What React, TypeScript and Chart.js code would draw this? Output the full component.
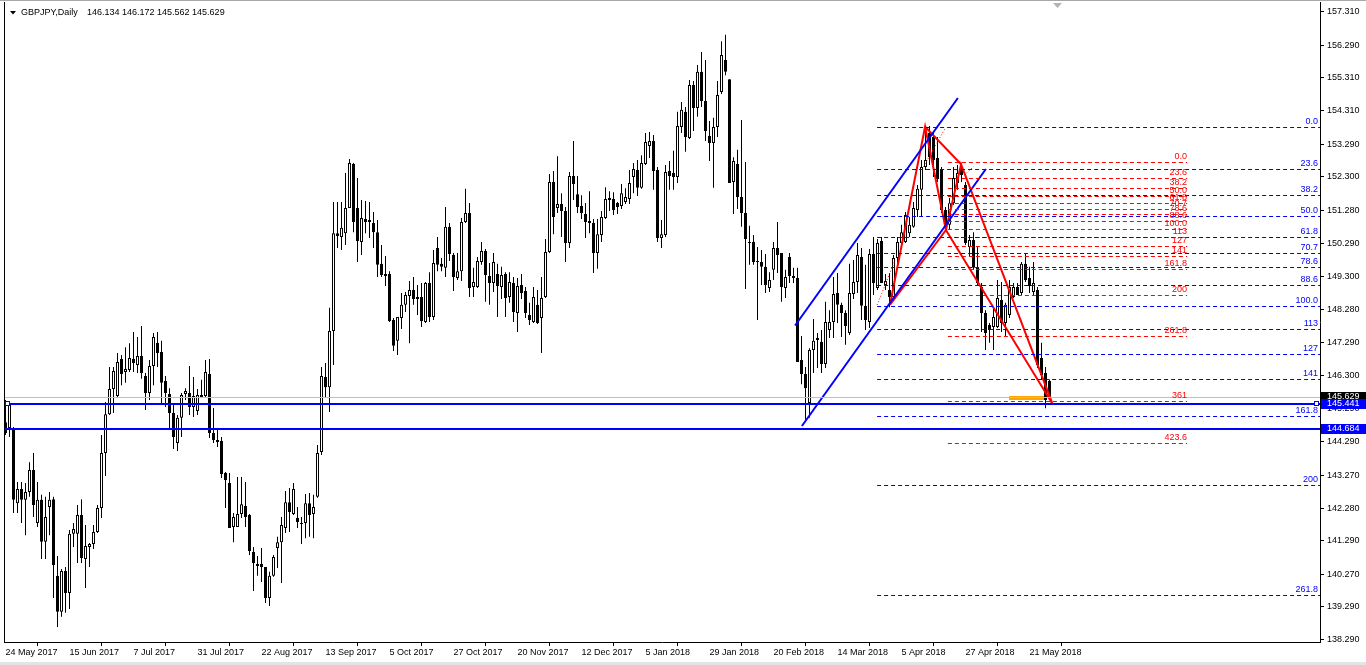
import React, { useEffect, useRef } from 'react';
import { Chart, registerables } from 'chart.js';

Chart.register(...registerables);

// ---- header ----
const symbolTitle = 'GBPJPY,Daily';
const ohlcText = '146.134 146.172 145.562 145.629';

// ---- daily candles (index 0 = 24 May 2017) ----
const opens = [
  144.88, 144.70, 144.70, 142.43, 142.86, 142.53, 142.77, 143.43, 141.83, 142.53,
  141.26, 142.31, 142.55, 140.23, 139.14, 140.38, 139.71, 141.50, 141.50, 142.07,
  140.74, 141.10, 141.19, 141.56, 142.28, 143.95, 145.12, 145.88, 145.67, 146.79,
  146.40, 146.46, 146.79, 146.61, 146.88, 146.28, 145.76, 146.58, 147.28, 147.00,
  146.13, 145.73, 145.16, 144.25, 145.01, 145.73, 145.76, 145.34, 145.22, 145.64,
  145.67, 146.34, 144.55, 144.34, 144.31, 143.34, 143.04, 141.71, 141.71, 142.10,
  142.34, 142.07, 140.95, 140.59, 140.59, 140.50, 139.56, 140.23, 141.07, 141.25,
  141.68, 142.46, 142.10, 141.98, 141.83, 141.83, 142.43, 142.10, 142.62, 143.98,
  146.25, 145.94, 147.64, 150.60, 150.48, 150.60, 151.36, 152.69, 151.36, 150.33,
  151.03, 151.00, 150.91, 150.63, 149.67, 149.36, 149.36, 147.97, 147.34, 148.03,
  148.43, 148.70, 148.88, 148.61, 148.67, 147.91, 149.09, 148.06, 150.15, 149.67,
  149.55, 150.79, 149.94, 149.24, 149.45, 150.94, 151.21, 148.97, 148.97, 149.73,
  150.06, 149.30, 149.09, 149.36, 148.97, 149.36, 148.67, 149.09, 148.18, 149.03,
  148.85, 148.12, 147.91, 148.43, 148.03, 148.67, 150.03, 152.15, 151.36, 151.48,
  151.27, 150.30, 152.33, 151.78, 151.42, 151.18, 150.97, 150.91, 150.00, 150.54,
  151.06, 151.60, 151.63, 151.51, 151.42, 151.54, 151.63, 152.30, 152.51, 151.97,
  152.69, 153.24, 153.39, 152.51, 150.45, 150.54, 152.48, 152.42, 152.30, 153.81,
  154.27, 153.48, 155.08, 154.39, 155.48, 154.60, 153.54, 153.33, 153.81, 154.87,
  155.84, 155.26, 152.15, 152.69, 151.69, 151.21, 150.33, 150.33, 149.76, 149.73,
  149.58, 148.94, 149.49, 150.15, 150.00, 148.94, 149.88, 149.30, 149.24, 146.76,
  146.34, 145.46, 147.06, 147.37, 147.31, 146.64, 147.67, 147.91, 148.79, 148.43,
  148.18, 147.58, 148.76, 149.12, 149.88, 148.40, 147.91, 149.97, 148.94, 150.36,
  149.03, 148.88, 148.67, 149.85, 150.30, 150.33, 150.60, 150.79, 151.30, 151.91,
  152.60, 153.63, 153.51, 152.87, 152.54, 151.30, 150.85, 151.51, 152.12, 152.60,
  152.06, 150.18, 150.39, 149.55, 148.97, 148.18, 147.82, 147.76, 147.76, 148.58,
  147.88, 148.12, 148.67, 148.97, 148.79, 149.67, 149.24, 148.82, 148.88, 146.82,
  146.37, 146.134,
];
const highs = [
  145.55, 145.49, 144.73, 143.07, 143.07, 143.04, 143.67, 143.95, 143.07, 142.68,
  142.62, 142.77, 142.62, 140.83, 140.44, 140.50, 141.62, 141.83, 142.37, 142.55,
  141.77, 141.22, 141.77, 142.37, 144.49, 145.49, 146.55, 146.55, 146.97, 146.91,
  147.15, 147.27, 147.61, 147.46, 147.79, 146.37, 146.76, 147.58, 147.61, 147.34,
  146.28, 145.91, 145.46, 145.10, 145.76, 145.91, 146.58, 146.25, 145.88, 146.16,
  146.76, 146.79, 145.31, 144.70, 144.43, 143.37, 143.34, 142.13, 143.22, 143.22,
  143.07, 142.10, 141.10, 140.83, 141.07, 140.50, 140.35, 140.86, 141.41, 142.01,
  142.80, 142.89, 143.04, 142.31, 142.01, 142.71, 142.74, 142.68, 144.19, 146.55,
  146.67, 148.34, 151.54, 151.54, 151.54, 152.42, 152.84, 152.72, 152.27, 151.60,
  151.57, 151.54, 151.24, 151.00, 150.24, 149.91, 149.45, 148.03, 148.06, 148.79,
  148.82, 149.15, 149.27, 149.03, 149.09, 149.12, 149.42, 150.09, 150.48, 149.85,
  151.39, 150.91, 150.00, 150.00, 151.06, 151.94, 151.51, 149.55, 149.88, 150.33,
  150.12, 149.70, 150.00, 149.67, 149.58, 149.42, 149.42, 149.27, 149.24, 149.36,
  148.97, 148.49, 148.97, 148.88, 149.27, 150.42, 152.39, 152.48, 152.93, 151.81,
  151.39, 152.45, 153.39, 152.33, 151.75, 151.51, 151.87, 151.03, 151.03, 151.27,
  151.99, 151.87, 151.84, 151.54, 152.09, 151.96, 152.51, 152.72, 152.81, 152.96,
  153.63, 153.66, 153.57, 152.60, 151.00, 152.66, 152.78, 153.09, 154.27, 154.57,
  154.42, 155.23, 155.20, 155.69, 156.08, 155.84, 153.99, 154.09, 155.20, 156.41,
  156.60, 155.26, 152.90, 153.12, 154.02, 152.75, 150.82, 150.54, 150.18, 150.09,
  149.97, 149.42, 150.33, 150.94, 150.00, 149.49, 150.00, 149.55, 149.55, 147.49,
  146.55, 147.12, 148.00, 147.58, 147.67, 148.52, 148.27, 149.27, 149.39, 148.49,
  148.27, 149.67, 149.79, 150.30, 150.15, 149.64, 150.12, 150.48, 150.42, 150.48,
  149.36, 149.39, 149.94, 150.48, 150.85, 151.24, 151.09, 151.54, 152.06, 152.81,
  153.78, 153.84, 153.66, 153.51, 152.60, 151.39, 151.66, 152.60, 152.66, 152.72,
  152.15, 150.54, 150.63, 150.18, 149.09, 148.27, 147.88, 148.34, 149.18, 149.12,
  148.49, 149.18, 149.09, 149.09, 149.73, 150.00, 149.58, 149.73, 148.97, 147.28,
  146.55, 146.172,
];
const lows = [
  144.49, 144.43, 142.13, 142.13, 141.83, 141.46, 142.62, 142.01, 141.71, 140.74,
  140.74, 141.46, 139.56, 138.68, 138.99, 139.11, 139.23, 141.10, 140.62, 140.62,
  139.86, 140.50, 141.04, 141.53, 141.98, 143.25, 145.10, 145.16, 145.64, 146.00,
  146.07, 146.40, 146.40, 146.37, 146.19, 145.25, 145.55, 146.00, 146.55, 145.40,
  145.34, 144.70, 144.07, 144.01, 144.43, 145.55, 145.10, 145.04, 145.10, 145.61,
  145.64, 144.40, 144.25, 144.13, 143.19, 142.28, 141.68, 141.25, 141.71, 141.98,
  141.71, 140.86, 139.77, 140.23, 140.04, 139.41, 139.32, 140.20, 140.47, 140.01,
  141.53, 141.56, 142.07, 141.68, 141.19, 141.37, 141.41, 141.37, 142.59, 143.89,
  145.64, 145.19, 146.61, 150.15, 150.09, 150.24, 151.36, 150.63, 149.73, 149.94,
  150.60, 150.45, 150.15, 149.27, 149.27, 149.00, 147.91, 147.03, 146.91, 147.70,
  148.21, 147.27, 148.43, 148.12, 147.76, 147.88, 147.91, 147.97, 149.45, 149.45,
  149.27, 149.76, 148.85, 149.18, 149.15, 150.91, 148.67, 148.67, 148.94, 149.64,
  148.52, 148.43, 148.82, 148.06, 148.61, 148.06, 148.49, 147.91, 147.61, 148.61,
  148.03, 147.82, 147.88, 147.85, 146.97, 148.64, 150.00, 150.57, 151.21, 150.48,
  149.73, 150.15, 151.60, 151.21, 151.03, 150.45, 150.60, 149.39, 149.52, 150.33,
  151.03, 151.27, 151.15, 151.18, 151.33, 151.48, 151.48, 151.81, 151.72, 151.94,
  152.66, 152.87, 151.91, 150.33, 150.15, 150.48, 151.91, 151.91, 152.12, 153.63,
  153.06, 153.45, 153.69, 154.12, 154.42, 153.39, 152.78, 151.97, 153.51, 154.81,
  155.38, 152.12, 151.18, 151.33, 150.79, 148.91, 149.64, 149.64, 147.97, 149.03,
  148.79, 148.82, 149.18, 149.39, 148.52, 148.64, 149.09, 149.09, 146.70, 146.03,
  144.95, 145.01, 146.37, 146.52, 146.37, 146.52, 147.43, 147.43, 147.88, 147.46,
  147.22, 147.52, 148.61, 148.79, 147.97, 147.67, 147.73, 148.73, 148.88, 149.09,
  148.88, 148.36, 148.58, 149.58, 150.24, 150.30, 150.48, 150.76, 151.09, 151.09,
  152.51, 152.66, 152.30, 152.15, 151.21, 150.70, 150.70, 151.45, 151.91, 152.15,
  150.24, 149.88, 149.49, 149.03, 147.61, 147.06, 147.28, 147.06, 147.73, 147.61,
  147.46, 148.03, 148.64, 148.73, 148.73, 149.12, 148.79, 148.73, 146.52, 146.16,
  145.30, 145.562,
];
const closes = [
  144.55, 145.46, 142.53, 142.86, 142.53, 142.77, 143.43, 142.37, 142.53, 141.26,
  142.01, 142.53, 140.56, 139.14, 140.38, 139.71, 141.50, 141.65, 142.07, 140.77,
  141.13, 141.19, 141.56, 142.28, 143.95, 145.12, 145.88, 146.43, 146.70, 146.34,
  146.49, 146.82, 146.67, 146.88, 146.37, 145.76, 146.58, 147.46, 146.97, 146.07,
  145.76, 145.16, 144.43, 145.01, 145.70, 145.82, 145.34, 145.67, 145.70, 145.70,
  146.40, 144.55, 144.34, 144.28, 143.31, 143.13, 141.68, 142.01, 142.10, 142.40,
  142.01, 140.98, 140.62, 140.53, 140.50, 139.56, 140.23, 140.80, 141.25, 141.77,
  142.46, 142.16, 142.86, 141.86, 141.80, 142.43, 142.07, 142.31, 143.95, 146.28,
  145.94, 147.64, 150.60, 150.51, 150.76, 151.36, 152.72, 150.94, 150.36, 151.06,
  150.94, 150.94, 150.63, 149.64, 149.33, 149.30, 147.94, 147.19, 148.06, 148.43,
  148.73, 148.88, 148.61, 148.67, 147.94, 149.09, 148.06, 149.70, 149.64, 149.58,
  150.79, 149.97, 149.27, 149.45, 150.94, 151.21, 148.94, 149.12, 149.76, 150.06,
  149.33, 149.09, 149.73, 149.00, 149.33, 148.64, 149.12, 148.21, 149.00, 148.79,
  148.18, 147.97, 148.67, 147.88, 148.64, 150.03, 152.15, 151.09, 151.48, 151.27,
  150.30, 152.33, 152.09, 151.39, 151.21, 150.94, 150.91, 150.00, 150.57, 151.09,
  151.63, 151.66, 151.30, 151.39, 151.81, 151.69, 152.12, 152.54, 151.97, 152.72,
  153.36, 153.39, 152.48, 150.45, 150.57, 152.45, 152.33, 152.30, 153.84, 154.33,
  153.51, 155.08, 154.39, 155.48, 154.60, 153.69, 153.33, 153.81, 154.78, 155.99,
  155.48, 152.12, 152.78, 151.69, 151.21, 150.42, 150.30, 149.73, 149.73, 149.58,
  149.03, 149.18, 150.15, 149.94, 148.97, 149.27, 149.30, 149.24, 146.70, 146.34,
  145.91, 147.06, 147.34, 147.43, 146.64, 147.91, 147.91, 148.76, 148.43, 148.18,
  147.79, 148.79, 149.12, 149.94, 148.40, 147.97, 149.97, 149.09, 150.30, 149.09,
  149.15, 148.67, 149.85, 150.33, 150.63, 151.15, 150.85, 151.36, 151.94, 152.60,
  152.81, 152.90, 152.81, 152.24, 151.30, 150.85, 151.51, 152.27, 152.42, 152.36,
  150.30, 150.39, 149.55, 149.09, 148.18, 147.58, 147.67, 148.06, 148.64, 147.88,
  148.43, 148.97, 148.97, 148.73, 149.67, 149.18, 149.00, 149.09, 146.61, 146.30,
  145.55, 145.629,
];

// ---- axis ticks ----
const dateTickIndex = [0, 16, 32, 48, 64, 80, 96, 112, 128, 144, 160, 176, 192, 208, 224, 240, 256];
const dateTickLabels = [
  '24 May 2017', '15 Jun 2017', '7 Jul 2017', '31 Jul 2017', '22 Aug 2017', '13 Sep 2017',
  '5 Oct 2017', '27 Oct 2017', '20 Nov 2017', '12 Dec 2017', '5 Jan 2018', '29 Jan 2018',
  '20 Feb 2018', '14 Mar 2018', '5 Apr 2018', '27 Apr 2018', '21 May 2018',
];
const priceTicks = [
  157.310, 156.290, 155.310, 154.310, 153.290, 152.300, 151.280, 150.290, 149.300, 148.280,
  147.290, 146.300, 145.290, 144.290, 143.270, 142.280, 141.290, 140.270, 139.290, 138.290,
];

// ---- drawn objects (bar index, price) ----
const horizontalLines = [145.441, 144.684];
const bidPrice = 145.629;
const channelUpper = [[197.4, 147.805], [238.1, 154.69]];
const channelLower = [[199.1, 144.764], [245.1, 152.541]];
const patternX = [221.1, 148.426];
const patternA = [229.9, 153.821];
const patternB = [235.1, 150.695];
const patternC = [238.9, 152.683];
const patternD = [261.8, 145.421];
const dottedRed1 = [[217.9, 148.426], [222.4, 149.787]];
const dottedRed2 = [[229.5, 152.61], [234.9, 153.77]];
const dottedRed3 = [[239.7, 152.36], [242.0, 152.61]];
const orangeZone = [250.9, 260.1, 145.536, 145.672];

const blueFibLevels = [0, 23.6, 38.2, 50, 61.8, 70.7, 78.6, 88.6, 100, 113, 127, 141, 161.8, 200, 261.8];
const blueFibLabels = ['0.0', '23.6', '38.2', '50.0', '61.8', '70.7', '78.6', '88.6', '100.0', '113', '127', '141', '161.8', '200', '261.8'];
const blueFibAnchor = [217.9, 153.803, 148.386]; // start index, 0% price, 100% price

const redFibLevels = [0, 23.6, 38.2, 50, 61.8, 70.7, 78.6, 88.6, 100, 113, 127, 141, 161.8, 200, 261.8, 361, 423.6];
const redFibLabels = ['0.0', '23.6', '38.2', '50.0', '61.8', '70.7', '78.6', '88.6', '100.0', '113', '127', '141', '161.8', '200', '261.8', '361', '423.6'];
const redFibAnchor = [235.6, 295.4, 152.723, 150.722]; // start index, end index, 0% price, 100% price

const X_MIN = -0.375;
const X_MAX = 328.625;
const Y_MIN = 138.228;
const Y_MAX = 157.594;
const FONT = 'Liberation Sans';

const pts = (p: number[][]) => p.map(([x, y]) => ({ x, y }));

const lineDs = (p: number[][], color: string, width: number, dash: number[] = [], snapPrice: number | null = null) => ({
  type: 'line',
  data: pts(p),
  borderColor: color,
  backgroundColor: color,
  borderWidth: width,
  borderDash: dash,
  pointRadius: 0,
  pointHoverRadius: 0,
  fill: false,
  tension: 0,
  order: 1,
  snapPrice,
});

// keeps horizontal 1px / 2px lines on whole device pixels
const pixelSnap = {
  id: 'pixelSnap',
  beforeDatasetDraw(chart: any, args: any) {
    const ds = chart.data.datasets[args.index];
    if (ds && typeof ds.snapPrice === 'number') {
      const yy = chart.scales.y.getPixelForValue(ds.snapPrice);
      const w = ds.borderWidth || 1;
      const target = w % 2 === 1 ? Math.floor(yy) + 0.5 : Math.round(yy);
      chart.ctx.save();
      chart.ctx.translate(0, target - yy);
      ds._snapped = true;
    }
  },
  afterDatasetDraw(chart: any, args: any) {
    const ds = chart.data.datasets[args.index];
    if (ds && ds._snapped) {
      chart.ctx.restore();
      ds._snapped = false;
    }
  },
};

const overlay = {
  id: 'mt4overlay',
  beforeDatasetsDraw(chart: any) {
    const { ctx, chartArea, scales } = chart;
    const xs = scales.x, ys = scales.y;
    ctx.save();
    ctx.beginPath();
    ctx.rect(chartArea.left, chartArea.top, chartArea.right - chartArea.left, chartArea.bottom - chartArea.top);
    ctx.clip();
    const x0 = Math.round(xs.getPixelForValue(orangeZone[0]));
    const x1 = Math.round(xs.getPixelForValue(orangeZone[1]));
    const y0 = Math.round(ys.getPixelForValue(orangeZone[3]));
    const y1 = Math.round(ys.getPixelForValue(orangeZone[2]));
    ctx.fillStyle = '#FFA500';
    ctx.fillRect(x0, y0, x1 - x0, Math.max(2, y1 - y0));
    ctx.restore();
  },
  afterDatasetsDraw(chart: any) {
    const { ctx, chartArea, scales } = chart;
    const xs = scales.x, ys = scales.y;
    ctx.save();
    ctx.beginPath();
    ctx.rect(chartArea.left, chartArea.top, chartArea.right - chartArea.left, chartArea.bottom - chartArea.top);
    ctx.clip();
    ctx.font = `9px "${FONT}"`;
    ctx.textAlign = 'right';
    ctx.textBaseline = 'middle';
    ctx.fillStyle = '#0000FF';
    blueFibLevels.forEach((lv, k) => {
      const price = blueFibAnchor[1] - (blueFibAnchor[1] - blueFibAnchor[2]) * lv / 100;
      const yy = Math.floor(ys.getPixelForValue(price));
      ctx.fillText(blueFibLabels[k], chartArea.right - 2, yy - 5);
    });
    ctx.fillStyle = '#FF0000';
    const rx = xs.getPixelForValue(redFibAnchor[1]);
    redFibLevels.forEach((lv, k) => {
      const price = redFibAnchor[2] - (redFibAnchor[2] - redFibAnchor[3]) * lv / 100;
      const yy = Math.floor(ys.getPixelForValue(price));
      ctx.fillText(redFibLabels[k], rx, yy - 5);
    });
    ctx.restore();
  },
  afterDraw(chart: any) {
    const { ctx, chartArea, scales } = chart;
    const ys = scales.y;
    ctx.save();
    // frame
    ctx.fillStyle = '#a8a8a8';
    ctx.fillRect(0, 0, 1366, 1);
    ctx.fillStyle = '#000';
    ctx.fillRect(chartArea.left, chartArea.top, 1, chartArea.bottom - chartArea.top);
    ctx.fillStyle = '#e4e4e4';
    ctx.fillRect(0, 662, 1366, 3);
    // header
    ctx.fillStyle = '#000';
    ctx.beginPath();
    ctx.moveTo(10, 11);
    ctx.lineTo(16, 11);
    ctx.lineTo(13, 14.5);
    ctx.closePath();
    ctx.fill();
    ctx.font = `9px "${FONT}"`;
    ctx.textAlign = 'left';
    ctx.textBaseline = 'middle';
    ctx.fillText(symbolTitle, 21, 13);
    ctx.fillText(ohlcText, 87, 13);
    // chart shift marker
    ctx.fillStyle = '#b4b4b4';
    ctx.beginPath();
    ctx.moveTo(1053, 3);
    ctx.lineTo(1062, 3);
    ctx.lineTo(1057.5, 8);
    ctx.closePath();
    ctx.fill();
    // price labels on axis
    const box = (price: number, bg: string) => {
      const yy = Math.round(ys.getPixelForValue(price));
      ctx.fillStyle = bg;
      ctx.fillRect(chartArea.right + 1, yy - 5, 46, 10);
      ctx.fillStyle = '#fff';
      ctx.fillText(price.toFixed(3), chartArea.right + 7, yy);
    };
    box(bidPrice, '#000');
    horizontalLines.forEach((p) => box(p, '#0000FF'));
    // selection handles of the first horizontal line
    const hy = Math.round(ys.getPixelForValue(horizontalLines[0]));
    ctx.fillStyle = '#fff';
    ctx.strokeStyle = '#0000FF';
    ctx.lineWidth = 1;
    [chartArea.left + 1, chartArea.right - 6].forEach((hx) => {
      ctx.fillRect(hx, hy - 3, 5, 5);
      ctx.strokeRect(hx + 0.5, hy - 2.5, 4, 4);
    });
    ctx.restore();
  },
};

export default function App() {
  const ref = useRef<HTMLCanvasElement>(null);

  useEffect(() => {
    const canvas = ref.current;
    if (!canvas) return;

    const bodies = {
      type: 'bar',
      data: opens.map((o, i) => ({ x: i, y: [o, closes[i]] })),
      backgroundColor: (c: any) => (closes[c.dataIndex] >= opens[c.dataIndex] ? '#ffffff' : '#000000'),
      borderColor: '#000000',
      borderWidth: 1,
      borderSkipped: false,
      barThickness: 3,
      minBarLength: 1,
      grouped: false,
      inflateAmount: 0,
      order: 5,
    };
    const wicks = {
      type: 'bar',
      data: lows.map((l, i) => ({ x: i, y: [l, highs[i]] })),
      backgroundColor: '#000000',
      borderWidth: 0,
      barThickness: 1,
      grouped: false,
      inflateAmount: 0,
      order: 6,
    };

    const lineSets: any[] = [];
    lineSets.push(lineDs([[X_MIN, bidPrice], [X_MAX, bidPrice]], '#c0c0c0', 1, [], bidPrice));
    blueFibLevels.forEach((lv) => {
      const price = blueFibAnchor[1] - (blueFibAnchor[1] - blueFibAnchor[2]) * lv / 100;
      lineSets.push(lineDs([[blueFibAnchor[0], price], [X_MAX, price]], '#0000FF', 1, [4, 3], price));
    });
    redFibLevels.forEach((lv) => {
      const price = redFibAnchor[2] - (redFibAnchor[2] - redFibAnchor[3]) * lv / 100;
      lineSets.push(lineDs([[redFibAnchor[0], price], [redFibAnchor[1], price]], '#FF0000', 1, [4, 3], price));
    });
    horizontalLines.forEach((p) => lineSets.push(lineDs([[X_MIN, p], [X_MAX, p]], '#0000FF', 2, [], p)));
    lineSets.push(lineDs(channelUpper, '#0000FF', 2));
    lineSets.push(lineDs(channelLower, '#0000FF', 2));
    lineSets.push(lineDs(dottedRed1, '#FF0000', 1, [1, 2]));
    lineSets.push(lineDs(dottedRed2, '#FF0000', 1, [1, 2]));
    lineSets.push(lineDs(dottedRed3, '#FF0000', 1, [1, 2]));
    lineSets.push(lineDs([patternX, patternA, patternB, patternX], '#FF0000', 2));
    lineSets.push(lineDs([patternB, patternC, patternD, patternB], '#FF0000', 2));
    lineSets.push(lineDs([patternA, patternC], '#FF0000', 2));

    const chart = new Chart(canvas, {
      type: 'bar',
      data: { datasets: [...lineSets, bodies, wicks] as any },
      options: {
        animation: false,
        responsive: false,
        devicePixelRatio: 1,
        events: [],
        layout: { padding: { left: 4, top: 2, right: 0, bottom: 0 } },
        plugins: { legend: { display: false }, tooltip: { enabled: false } },
        scales: {
          x: {
            type: 'linear',
            min: X_MIN,
            max: X_MAX,
            offset: false,
            grid: { drawOnChartArea: false, drawTicks: true, tickLength: 4, color: '#000', lineWidth: 1 },
            border: { display: true, color: '#000', width: 1 },
            ticks: {
              autoSkip: false,
              maxRotation: 0,
              minRotation: 0,
              align: 'start',
              padding: 1,
              color: '#000',
              font: { family: FONT, size: 9 },
              callback: (v: any) => {
                const k = dateTickIndex.indexOf(Number(v));
                return k >= 0 ? dateTickLabels[k] : '';
              },
            },
            afterBuildTicks: (s: any) => {
              s.ticks = dateTickIndex.map((v) => ({ value: v }));
            },
            afterFit: (s: any) => {
              s.height = 23;
              s.paddingLeft = 0;
              s.paddingRight = 0;
            },
          },
          y: {
            type: 'linear',
            position: 'right',
            min: Y_MIN,
            max: Y_MAX,
            grid: { drawOnChartArea: false, drawTicks: true, tickLength: 4, color: '#000', lineWidth: 1 },
            border: { display: true, color: '#000', width: 1 },
            ticks: {
              padding: 3,
              color: '#000',
              font: { family: FONT, size: 9 },
              callback: (v: any) => Number(v).toFixed(3),
            },
            afterBuildTicks: (s: any) => {
              s.ticks = priceTicks.map((v) => ({ value: v }));
            },
            afterFit: (s: any) => {
              s.width = 46;
              s.paddingTop = 0;
              s.paddingBottom = 0;
            },
          },
        },
      } as any,
      plugins: [pixelSnap, overlay],
    });

    return () => chart.destroy();
  }, []);

  return (
    <div>
      <canvas
        ref={ref}
        width={1366}
        height={665}
        style={{ position: 'fixed', left: 0, top: 0, display: 'block', background: '#ffffff' }}
      />
    </div>
  );
}
